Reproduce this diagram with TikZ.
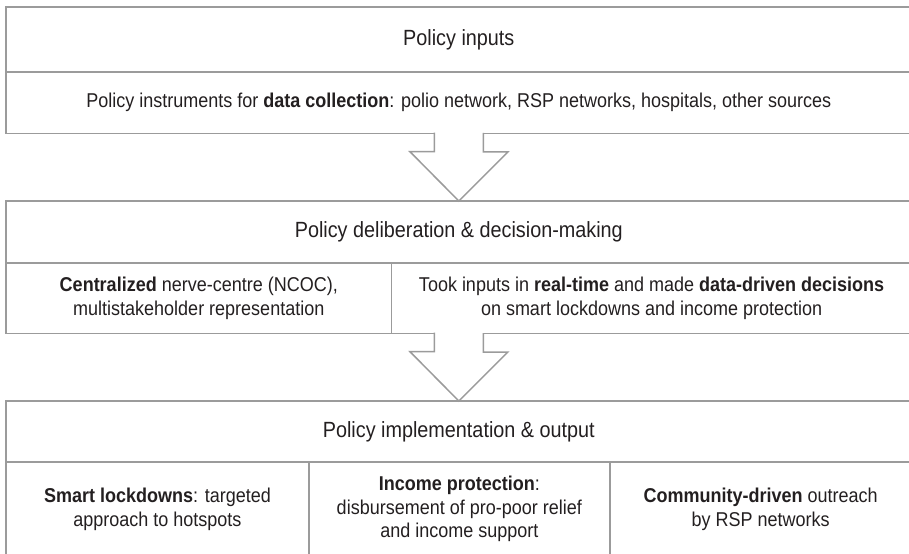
\documentclass[tikz,border=0pt]{standalone}
\usepackage{fontspec}
\setmainfont{Liberation Sans}[FakeStretch=0.9]
\usetikzlibrary{positioning, calc}

\definecolor{linegray}{RGB}{155,155,155}
\definecolor{textgray}{RGB}{35,31,32}

\tikzset{
    rowbox/.style={draw=linegray, line width=1.5bp, rectangle, inner sep=0pt, outer sep=0pt,
        text=textgray, align=center},
    headbox/.style={rowbox, font=\fontsize{22bp}{26bp}\selectfont},
    cellbox/.style={rowbox, font=\fontsize{20bp}{23.5bp}\selectfont},
    blockarrow/.style={draw=linegray, line width=1.5bp, fill=white, line join=miter}
}

\begin{document}
\begin{tikzpicture}[x=1bp, y=-1bp]
    \useasboundingbox (0,0) rectangle (909,554);

    % 政策输入
    \node[headbox, anchor=north west, minimum width=909, minimum height=65] (inT) at (6,7) {Policy inputs};
    \node[cellbox, below=0pt of inT, minimum width=909, minimum height=62] (inS)
        {Policy instruments for \textbf{data collection}: polio network, RSP networks, hospitals, other sources};

    % 政策审议与决策
    \node[headbox, anchor=north west, minimum width=909, minimum height=62] (delT) at (6,201) {Policy deliberation \& decision-making};
    \node[cellbox, anchor=north west, minimum width=387, minimum height=71] (delL) at (delT.south west)
        {\textbf{Centralized} nerve-centre (NCOC),\\ multistakeholder representation};
    \node[cellbox, right=0pt of delL, minimum width=522, minimum height=71] (delR)
        {Took inputs in \textbf{real-time} and made \textbf{data-driven decisions}\\ on smart lockdowns and income protection};

    % 政策实施与产出
    \node[headbox, anchor=north west, minimum width=909, minimum height=61] (impT) at (6,401) {Policy implementation \& output};
    \node[cellbox, anchor=north west, minimum width=304, minimum height=95] (impL) at (impT.south west)
        {\textbf{Smart lockdowns}: targeted\\ approach to hotspots};
    \node[cellbox, right=0pt of impL, minimum width=302, minimum height=95] (impM)
        {\textbf{Income protection}:\\ disbursement of pro-poor relief\\ and income support};
    \node[cellbox, right=0pt of impM, minimum width=303, minimum height=95] (impR)
        {\textbf{Community-driven} outreach\\ by RSP networks};

    % 空心箭头
    \foreach \a/\b in {inS/delT, delL/impT} {
        \draw[blockarrow] ($(\a.south -| \b.north)+(-24.5,-1)$) -- ++(0,19) -- ++(-24.5,0)
            -- (\b.north) -- ++(49,-49) -- ++(-24.5,0) -- ++(0,-19);
    }
\end{tikzpicture}
\end{document}
